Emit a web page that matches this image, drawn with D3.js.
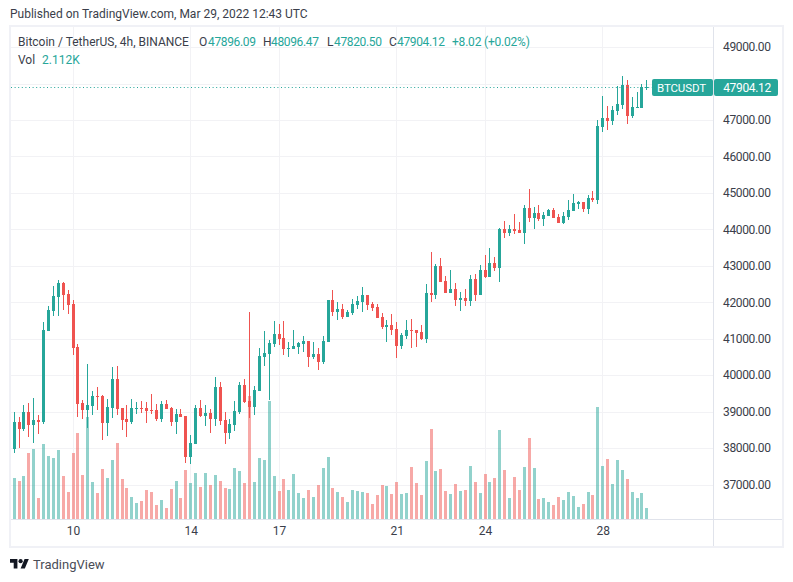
<!DOCTYPE html>
<html>
<head>
<title>BTCUSDT 4h</title>
<script src="https://cdn.jsdelivr.net/npm/d3@7/dist/d3.min.js"></script>
<style>
  html, body { margin: 0; padding: 0; background: #fff; }
  svg { display: block; }
  text { font-family: Roboto, sans-serif; }
  .tick text { fill: #3a3e4a; font-size: 12px; }
  .price .tick text { letter-spacing: -0.35px; }
</style>
</head>
<body>
<div id="chart"></div>
<script>
// 4h candles, first one is cut by the frame
var open = [37320,37974,38715,38523,38989,38633,38770,38715,41211,41760,42144,42528,42227,41952,40773,39236,39044,39154,39428,39428,38687,39099,39895,39099,38797,38715,39072,39099,39099,39044,39044,38797,39209,39099,38715,38934,38880,37755,38111,39099,38880,38962,38797,39675,38770,38413,38633,38990,39730,39291,39127,39566,40498,40581,40855,41129,41020,40718,40718,40773,40855,40937,40498,40581,40361,40910,42062,41733,41815,41596,41706,41925,42007,42199,41953,41870,41596,41322,41376,41267,40800,41075,41239,41239,41184,40992,42254,42199,42995,42584,42254,42364,42062,42117,42034,42637,42198,42884,42692,43076,42939,44009,43899,44009,43981,43899,44585,44311,44448,44283,44366,44530,44338,44173,44338,44503,44695,44750,44558,44859,44804,46807,47054,46972,47246,47411,47959,47109,47328,47328,47896.09];
var high = [38000,38989,38852,39181,39236,39373,38907,41458,41897,42446,42611,42556,42336,42062,40855,39318,40306,39565,39675,39456,39346,40224,40251,39099,39181,39346,39264,39291,39264,39483,39209,39291,39318,39126,39072,39072,38880,38358,39181,39318,39181,39072,39949,39812,38989,38797,39291,39813,39895,41733,39703,40745,41212,40965,41486,41404,41486,40910,41239,40910,41075,40937,40910,40745,41075,42062,42337,42007,41953,41788,42090,42172,42419,42199,42007,41953,41706,41514,41678,41459,41157,41514,41541,41239,41376,42501,43379,43050,43215,42721,42885,42529,42282,42364,42747,42774,43021,43296,43488,43241,44036,44228,44119,44420,44201,44667,45106,44612,44667,44475,44558,44585,44420,44475,44804,44969,44777,44750,44942,45051,46999,47658,47383,47383,47932,48206,48097,47630,47767,47987,48096.47];
var low = [37320,37864,38002,38468,38303,38139,38386,38660,41211,41623,41623,41788,41678,40553,38852,38797,38550,38907,39044,38221,38331,38825,38907,38495,38303,38660,38934,38962,38687,38934,38742,38715,39072,38605,38386,38852,37590,37563,38111,38852,38605,38413,38605,38633,38111,38248,38468,38935,39236,38825,38907,39566,40252,39319,40773,40828,40553,40498,40718,40581,40636,40224,40444,40142,40306,40910,41623,41514,41541,41596,41651,41815,41733,41788,41760,41568,41267,40910,41102,40471,40718,40992,40745,40773,40965,40883,42007,42090,42556,42254,42254,41898,41760,41898,41896,42034,42198,42665,42692,42857,42555,43762,43817,43872,43899,43597,44201,44009,44228,44091,44366,44311,44173,44146,44256,44503,44558,44475,44420,44750,44695,46670,46725,46862,47136,47301,46890,47054,47328,47328,47820.50];
var close = [38000,38715,38523,38989,38633,38770,38715,41239,41788,42172,42528,42199,41925,40745,39209,39044,39181,39428,39401,38687,39126,39895,39072,38770,38715,39099,39099,39072,39017,39017,38797,39209,39072,38715,38934,38852,37755,38139,39099,38880,38962,38797,39675,38742,38413,38660,39017,39730,39264,39127,39593,40526,40608,40883,41129,40992,40718,40745,40800,40883,40937,40498,40581,40361,40937,42062,41733,41815,41596,41733,41953,42035,42199,41925,41843,41568,41322,41376,41239,40800,41102,41239,41212,41157,40992,42254,42199,42995,42556,42254,42364,42062,42117,42035,42637,42198,42884,42692,43076,42939,44009,43899,44009,43954,43899,44585,44311,44448,44283,44393,44530,44311,44173,44366,44530,44722,44750,44558,44859,44804,46835,47054,46972,47274,47438,47959,47109,47356,47356,47905,47904.12];
var volume = [0,7.87,7.30,8.26,12.67,13.44,4.03,14.40,12.10,11.71,13.25,8.26,5.18,12.67,16.51,8.45,19.58,7.10,4.99,9.60,7.87,11.33,14.59,7.68,5.95,4.22,3.07,3.46,5.57,5.18,2.69,3.65,2.11,5.76,7.30,4.03,9.41,6.91,8.83,6.14,8.83,6.53,8.45,7.30,5.95,5.76,9.79,9.22,6.91,23.62,7.10,11.71,11.33,22.66,8.26,5.38,7.68,5.57,8.64,4.99,4.03,5.57,4.22,6.53,9.79,11.90,5.95,5.18,4.22,3.26,5.57,5.38,5.18,4.99,2.88,4.61,6.53,6.34,4.80,7.10,4.80,4.99,9.98,6.91,4.61,11.14,17.28,9.22,9.60,5.38,4.80,6.72,5.38,5.57,10.18,7.10,4.99,8.64,7.10,7.87,17.09,9.41,4.03,8.06,5.57,9.98,15.55,9.79,3.84,4.03,3.26,2.69,4.22,3.65,5.18,4.42,2.30,2.88,5.18,4.61,21.50,10.18,11.52,6.72,11.33,9.41,7.68,5.18,4.03,4.99,2.112];
var dateBars = [13,37,55,79,97,121];
var dateLabels = ["10","14","17","21","24","28"];
var gridPrices = [37000,38000,39000,40000,41000,42000,43000,44000,45000,46000,47000,48000,49000];
// 48000 sits behind the price tag so it gets no label
var priceTicks = [37000,38000,39000,40000,41000,42000,43000,44000,45000,46000,47000,49000];

var UP = "#26a69a", DOWN = "#ef5350";
var GRID = "#f2f2f5";
var W = 793, H = 582;
var left = 11, right = 713, top_ = 27, bottom = 519, frameBottom = 546;

var svg = d3.select("#chart").append("svg").attr("width", W).attr("height", H);

var x = d3.scaleLinear().domain([13, 130]).range([73, 646.885]);
var y = d3.scaleLinear().domain([47000, 37000]).range([120, 484.5]);
var v = d3.scaleLinear().domain([0, 22]).range([519, 404.4]);

function px(i) { return Math.floor(x(i)); }
function color(i) { return close[i] >= open[i] ? UP : DOWN; }

svg.append("clipPath").attr("id", "pane").append("rect")
  .attr("x", 10.5).attr("y", top_).attr("width", right - 10.5).attr("height", bottom - top_);

// grid
svg.append("g").selectAll("line").data(gridPrices).enter().append("line")
  .attr("x1", left).attr("x2", right)
  .attr("y1", function(d) { return Math.round(y(d)) + 0.5; })
  .attr("y2", function(d) { return Math.round(y(d)) + 0.5; })
  .attr("stroke", GRID);
svg.append("g").selectAll("line").data(dateBars).enter().append("line")
  .attr("x1", function(d) { return px(d) + 0.5; })
  .attr("x2", function(d) { return px(d) + 0.5; })
  .attr("y1", top_).attr("y2", bottom)
  .attr("stroke", GRID);

var pane = svg.append("g").attr("clip-path", "url(#pane)");
var bars = d3.range(open.length);

// volume under the candles
pane.append("g").selectAll("rect").data(bars).enter().append("rect")
  .attr("x", function(i) { return px(i) - 1; })
  .attr("width", 3)
  .attr("y", function(i) { return Math.round(v(volume[i])); })
  .attr("height", function(i) { return bottom - Math.round(v(volume[i])); })
  .attr("fill", color)
  .attr("fill-opacity", 0.5);

// wicks
pane.append("g").selectAll("rect").data(bars).enter().append("rect")
  .attr("x", px)
  .attr("width", 1)
  .attr("y", function(i) { return Math.round(y(high[i])); })
  .attr("height", function(i) { return Math.max(1, Math.round(y(low[i])) - Math.round(y(high[i]))); })
  .attr("fill", color);

// bodies
pane.append("g").selectAll("rect").data(bars).enter().append("rect")
  .attr("x", function(i) { return px(i) - 1; })
  .attr("width", 3)
  .attr("y", function(i) { return Math.round(y(Math.max(open[i], close[i]))); })
  .attr("height", function(i) {
    return Math.max(1, Math.round(y(Math.min(open[i], close[i]))) - Math.round(y(Math.max(open[i], close[i]))));
  })
  .attr("fill", color);

// last price dotted line
var last = close[close.length - 1];
svg.append("line")
  .attr("x1", left).attr("x2", 652)
  .attr("y1", Math.round(y(last)) + 0.5).attr("y2", Math.round(y(last)) + 0.5)
  .attr("stroke", UP)
  .attr("stroke-dasharray", "1 2.6");

// frame
svg.append("rect").attr("x", 10).attr("y", 26).attr("width", 773).attr("height", 521)
  .attr("fill", "none").attr("stroke", "#f0f1f6").attr("stroke-width", 2);
svg.append("line").attr("x1", 11).attr("x2", 782).attr("y1", 519.5).attr("y2", 519.5).attr("stroke", "#e0e3eb");
svg.append("line").attr("x1", 713.5).attr("x2", 713.5).attr("y1", 27).attr("y2", frameBottom).attr("stroke", "#e0e3eb");

// axes
var yAxis = d3.axisRight(y).tickValues(priceTicks)
  .tickFormat(function(d) { return d3.format(".2f")(d); })
  .tickSize(0).tickPadding(0);
var yG = svg.append("g").attr("class", "price").attr("transform", "translate(723,0)").call(yAxis);
yG.select(".domain").remove();

var xAxis = d3.axisBottom(x).tickValues(dateBars)
  .tickFormat(function(d, i) { return dateLabels[i]; })
  .tickSize(0).tickPadding(0);
var xG = svg.append("g").attr("transform", "translate(0,526)").call(xAxis);
xG.select(".domain").remove();

// price tags
var tagY = 79;
svg.append("rect").attr("x", 652).attr("y", tagY).attr("width", 61).attr("height", 17).attr("rx", 2).attr("fill", UP);
svg.append("rect").attr("x", 714).attr("y", tagY).attr("width", 64).attr("height", 17).attr("rx", 2).attr("fill", UP);
svg.append("text").attr("x", 681.5).attr("y", 92).attr("text-anchor", "middle")
  .attr("font-size", 11.5).attr("fill", "#fff").attr("letter-spacing", "-0.1px").text("BTCUSDT");
svg.append("text").attr("x", 747).attr("y", 92).attr("text-anchor", "middle")
  .attr("font-size", 12).attr("fill", "#fff").attr("letter-spacing", "-0.35px").text(d3.format(".2f")(last));

// header texts
var dark = "#3a3e4a";
function label(tx, ty, s, fill, spacing) {
  svg.append("text").attr("x", tx).attr("y", ty).attr("font-size", 12).attr("fill", fill || dark)
    .attr("letter-spacing", spacing || 0).text(s);
}
label(10, 18, "Published on TradingView.com, Mar 29, 2022 12:43 UTC");
label(18, 46, "Bitcoin / TetherUS, 4h, BINANCE");
label(199, 46, "O"); label(208, 46, "47896.09", UP, "-0.35px");
label(263, 46, "H"); label(271, 46, "48096.47", UP, "-0.35px");
label(327, 46, "L"); label(334, 46, "47820.50", UP, "-0.35px");
label(389, 46, "C"); label(397, 46, "47904.12", UP, "-0.35px");
label(452, 46, "+8.02 (+0.02%)", UP, "-0.2px");
label(18, 64, "Vol");
label(42, 64, "2.112K", UP);

// logo
var logo = svg.append("g").attr("transform", "translate(10,556.9) scale(0.53)").attr("fill", "#131722");
logo.append("path").attr("d", "M14 22H7V11H0V4h14v18zM28 22h-8l7.5-18h8L28 22z");
logo.append("circle").attr("cx", 20).attr("cy", 8).attr("r", 4);
svg.append("text").attr("x", 33).attr("y", 569).attr("font-size", 13).attr("fill", "#4a4d57").text("TradingView");
</script>
</body>
</html>
